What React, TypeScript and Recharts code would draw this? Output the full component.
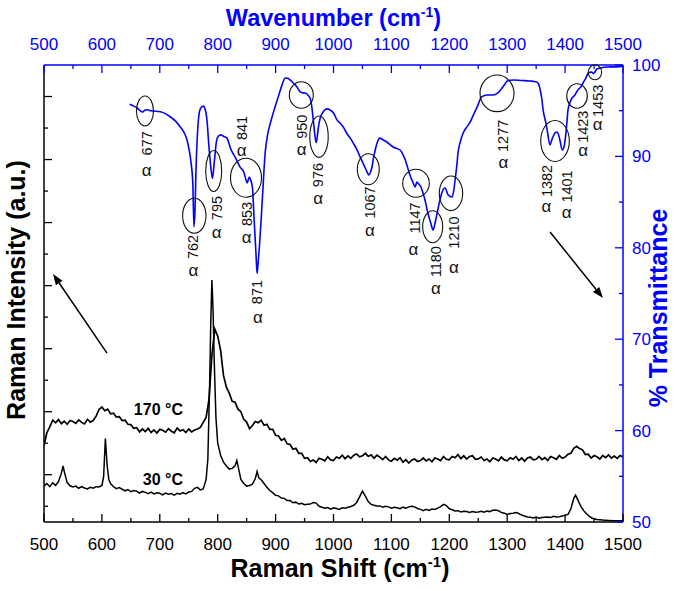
import React from 'react';
import { LineChart, Line, XAxis, YAxis, ReferenceDot, ReferenceLine } from 'recharts';

const BLUE = '#0000ff';
const FONT = "'Liberation Sans', Arial, Helvetica, sans-serif";

// ---- axis ticks ----
const shiftTicks = [500, 550, 600, 650, 700, 750, 800, 850, 900, 950, 1000, 1050, 1100, 1150, 1200, 1250, 1300, 1350, 1400, 1450, 1500];
const transTicks = [50, 55, 60, 65, 70, 75, 80, 85, 90, 95, 100];
const intensityTicks = [1, 2, 3, 4, 5, 6, 7, 8, 9, 10, 11, 12, 13, 14];

// ---- Raman 170 °C (shift, intensity a.u.) ----
const raman170: [number, number][] = [
  [500, 2.92], [505, 3.34], [510, 3.52], [515, 3.73], [520, 3.65], [525, 3.75], [530, 3.62], [535, 3.70], [540, 3.60], [545, 3.72],
  [550, 3.69], [555, 3.63], [560, 3.74], [565, 3.66], [570, 3.61], [575, 3.76], [580, 3.67], [585, 3.72], [590, 3.86], [595, 4.07],
  [600, 4.15], [605, 4.03], [610, 4.08], [615, 3.93], [620, 3.95], [625, 3.83], [630, 3.84], [635, 3.72], [640, 3.73], [645, 3.60],
  [650, 3.59], [655, 3.47], [660, 3.49], [665, 3.36], [670, 3.45], [675, 3.37], [680, 3.47], [685, 3.34], [690, 3.42], [695, 3.32],
  [700, 3.44], [705, 3.41], [710, 3.35], [715, 3.46], [720, 3.38], [725, 3.33], [730, 3.48], [735, 3.39], [740, 3.43], [745, 3.34],
  [750, 3.45], [755, 3.36], [760, 3.42], [765, 3.45], [770, 3.50], [775, 3.66], [780, 3.82], [785, 4.40], [790, 5.80], [795, 6.62],
  [800, 6.40], [805, 5.95], [810, 5.15], [815, 4.78], [820, 4.59], [825, 4.33], [830, 4.30], [835, 4.08], [840, 4.00], [845, 3.76],
  [850, 3.67], [855, 3.46], [860, 3.56], [865, 3.69], [870, 3.65], [875, 3.73], [880, 3.57], [885, 3.60], [890, 3.44], [895, 3.44],
  [900, 3.25], [905, 3.23], [910, 3.09], [915, 3.15], [920, 2.98], [925, 2.96], [930, 2.81], [935, 2.84], [940, 2.68], [945, 2.68],
  [950, 2.52], [955, 2.54], [960, 2.42], [965, 2.47], [970, 2.39], [975, 2.52], [980, 2.49], [985, 2.44], [990, 2.57], [995, 2.47],
  [1000, 2.45], [1005, 2.56], [1010, 2.52], [1015, 2.62], [1020, 2.51], [1025, 2.60], [1030, 2.52], [1035, 2.62], [1040, 2.66], [1045, 2.57],
  [1050, 2.60], [1055, 2.68], [1060, 2.58], [1065, 2.63], [1070, 2.52], [1075, 2.62], [1080, 2.56], [1085, 2.48], [1090, 2.58], [1095, 2.47],
  [1100, 2.43], [1105, 2.52], [1110, 2.46], [1115, 2.54], [1120, 2.40], [1125, 2.48], [1130, 2.37], [1135, 2.46], [1140, 2.50], [1145, 2.42],
  [1150, 2.45], [1155, 2.53], [1160, 2.44], [1165, 2.50], [1170, 2.41], [1175, 2.53], [1180, 2.50], [1185, 2.45], [1190, 2.58], [1195, 2.49],
  [1200, 2.47], [1205, 2.58], [1210, 2.54], [1215, 2.64], [1220, 2.51], [1225, 2.60], [1230, 2.50], [1235, 2.58], [1240, 2.60], [1245, 2.49],
  [1250, 2.50], [1255, 2.56], [1260, 2.45], [1265, 2.50], [1270, 2.41], [1275, 2.53], [1280, 2.50], [1285, 2.44], [1290, 2.56], [1295, 2.47],
  [1300, 2.44], [1305, 2.54], [1310, 2.49], [1315, 2.58], [1320, 2.45], [1325, 2.53], [1330, 2.43], [1335, 2.53], [1340, 2.56], [1345, 2.47],
  [1350, 2.49], [1355, 2.58], [1360, 2.48], [1365, 2.54], [1370, 2.45], [1375, 2.58], [1380, 2.54], [1385, 2.49], [1390, 2.61], [1395, 2.52],
  [1400, 2.56], [1405, 2.65], [1410, 2.68], [1415, 2.84], [1420, 2.90], [1425, 2.83], [1430, 2.79], [1435, 2.64], [1440, 2.65], [1445, 2.53],
  [1450, 2.61], [1455, 2.57], [1460, 2.50], [1465, 2.61], [1470, 2.54], [1475, 2.63], [1480, 2.53], [1485, 2.59], [1490, 2.52], [1495, 2.61],
  [1500, 2.56],
];

// ---- Raman 30 °C ----
const raman30: [number, number][] = [
  [500, 1.64], [505, 1.72], [510, 1.62], [515, 1.74], [520, 1.66], [525, 1.78], [530, 2.05], [533, 2.28], [535, 2.10], [540, 1.75],
  [545, 1.65], [550, 1.61], [555, 1.64], [560, 1.57], [565, 1.62], [570, 1.58], [575, 1.55], [580, 1.60], [585, 1.57], [590, 1.62],
  [595, 1.61], [600, 1.66], [603, 1.95], [606, 3.15], [609, 2.30], [612, 1.85], [615, 1.72], [620, 1.62], [625, 1.56], [630, 1.59],
  [635, 1.54], [640, 1.49], [645, 1.53], [650, 1.46], [655, 1.50], [660, 1.48], [665, 1.42], [670, 1.47], [675, 1.44], [680, 1.40],
  [685, 1.45], [690, 1.39], [695, 1.43], [700, 1.41], [705, 1.36], [710, 1.42], [715, 1.38], [720, 1.40], [725, 1.35], [730, 1.41],
  [735, 1.38], [740, 1.43], [745, 1.39], [750, 1.45], [755, 1.47], [760, 1.57], [765, 1.60], [770, 1.52], [775, 1.55], [780, 1.85],
  [783, 2.50], [786, 4.80], [788, 6.80], [790, 8.18], [792, 7.20], [794, 5.60], [797, 3.80], [800, 3.00], [805, 2.62], [810, 2.40],
  [815, 2.28], [820, 2.18], [825, 2.20], [830, 2.28], [833, 2.45], [836, 2.20], [840, 1.85], [845, 1.72], [850, 1.64], [855, 1.66],
  [860, 1.70], [865, 1.88], [868, 2.10], [871, 1.90], [875, 1.84], [880, 1.72], [885, 1.60], [890, 1.50], [895, 1.43], [900, 1.35],
  [905, 1.33], [910, 1.26], [915, 1.25], [920, 1.18], [925, 1.18], [930, 1.11], [935, 1.13], [940, 1.07], [945, 1.09], [950, 1.05],
  [955, 1.06], [960, 1.07], [965, 1.12], [970, 1.10], [975, 1.00], [980, 0.97], [985, 0.94], [990, 0.96], [995, 0.91], [1000, 0.95],
  [1005, 0.93], [1010, 0.90], [1015, 0.95], [1020, 0.94], [1025, 0.97], [1030, 0.99], [1035, 1.03], [1040, 1.12], [1045, 1.30], [1050, 1.48],
  [1055, 1.32], [1060, 1.15], [1065, 1.06], [1070, 1.03], [1075, 1.01], [1080, 1.01], [1085, 0.97], [1090, 1.00], [1095, 0.98], [1100, 0.94],
  [1105, 0.97], [1110, 0.95], [1115, 0.92], [1120, 0.97], [1125, 0.94], [1130, 0.98], [1135, 1.00], [1140, 0.98], [1145, 0.93], [1150, 0.90],
  [1155, 0.86], [1160, 0.90], [1165, 0.87], [1170, 0.91], [1175, 0.90], [1180, 0.94], [1185, 0.99], [1190, 1.06], [1195, 1.02], [1200, 0.92],
  [1205, 0.89], [1210, 0.85], [1215, 0.86], [1220, 0.82], [1225, 0.84], [1230, 0.83], [1235, 0.80], [1240, 0.83], [1245, 0.81], [1250, 0.82],
  [1255, 0.84], [1260, 0.81], [1265, 0.85], [1270, 0.83], [1275, 0.87], [1280, 0.88], [1285, 0.86], [1290, 0.80], [1295, 0.78], [1300, 0.74],
  [1305, 0.77], [1310, 0.78], [1315, 0.80], [1320, 0.77], [1325, 0.72], [1330, 0.69], [1335, 0.66], [1340, 0.65], [1345, 0.63], [1350, 0.66],
  [1355, 0.62], [1360, 0.64], [1365, 0.65], [1370, 0.66], [1375, 0.64], [1380, 0.68], [1385, 0.66], [1390, 0.67], [1395, 0.69], [1400, 0.71],
  [1405, 0.74], [1410, 0.92], [1415, 1.25], [1418, 1.35], [1422, 1.20], [1427, 1.00], [1432, 0.86], [1437, 0.76], [1442, 0.68], [1447, 0.62],
  [1455, 0.58], [1465, 0.56], [1475, 0.55], [1485, 0.54], [1500, 0.54],
];

// ---- FTIR (wavenumber, % transmittance) ----
const ftir: [number, number][] = [
  [648, 95.7], [655, 95.5], [662, 95.26], [666, 95.0], [670, 94.85], [674, 95.05], [678, 95.1], [684, 95.0], [701, 94.89], [718, 94.34],
  [728, 93.8], [735, 93.25], [742, 92.6], [747, 91.8], [751, 90.6], [754, 89.3], [757, 87.1], [759, 82.3], [761, 84.5], [762.5, 88.5],
  [764.5, 91.8], [767, 94.2], [770, 95.2], [775, 95.5], [779, 95.0], [782, 93.6], [784, 91.8], [788, 88.9], [791, 87.6], [794, 89.3],
  [798, 91.7], [801, 92.2], [805, 92.35], [810, 92.2], [816, 92.0], [822, 90.9], [831, 89.8], [839, 88.8], [845, 88.3], [849, 87.4],
  [851, 87.1], [854.5, 87.75], [857, 87.4], [860, 86.6], [863, 83.0], [866, 79.5], [868, 77.2], [870, 78.5], [872, 80.1], [877, 85.2],
  [882, 90.4], [886, 92.3], [891, 93.65], [899, 95.4], [905, 96.6], [911, 97.8], [916.6, 98.58], [921, 98.55], [925, 98.36], [931, 98.0],
  [937, 97.6], [942.5, 97.05], [947, 96.95], [951, 96.94], [956, 96.7], [960, 96.3], [963, 95.2], [966, 93.4], [970, 91.5], [972, 92.2],
  [974, 93.2], [977, 94.2], [981, 94.75], [985, 95.1], [989, 95.2], [994, 95.08], [1000, 94.75], [1006, 94.0], [1012, 93.6], [1017, 93.2],
  [1023, 92.5], [1029, 92.0], [1034, 91.47], [1040, 90.8], [1046, 89.93], [1050, 89.4], [1054, 88.84], [1058, 88.3], [1061, 87.96], [1064, 88.3],
  [1066.5, 88.84], [1069, 89.8], [1072, 90.7], [1076, 91.6], [1080, 92.0], [1086, 91.8], [1092, 91.58], [1103, 91.03], [1115, 90.7], [1120, 90.2],
  [1124, 89.6], [1128, 88.8], [1132, 87.96], [1137, 87.2], [1141, 86.65], [1144, 87.2], [1147, 87.0], [1151, 86.65], [1155, 85.9], [1158, 85.23],
  [1163, 83.81], [1168, 82.7], [1172, 81.95], [1175, 82.6], [1179, 83.81], [1183, 85.0], [1187, 86.0], [1192.5, 86.54], [1198, 85.78], [1205, 85.56],
  [1208, 86.4], [1210, 87.42], [1213, 89.0], [1215, 90.37], [1219, 91.6], [1224, 92.56], [1230, 93.2], [1236, 93.76], [1242, 94.6], [1248, 95.4],
  [1256, 96.5], [1265, 96.72], [1275, 96.72], [1284, 96.94], [1291, 97.48], [1296, 97.9], [1300, 98.25], [1310, 98.36], [1325, 98.3], [1339, 98.25],
  [1351, 98.14], [1355, 97.8], [1357, 97.26], [1360, 96.2], [1362, 95.08], [1366, 93.9], [1369, 92.89], [1374, 91.25], [1377, 91.8], [1379, 92.12],
  [1383, 92.6], [1386, 92.67], [1389, 92.3], [1391, 91.79], [1395, 90.7], [1398, 91.0], [1400, 91.79], [1403, 93.6], [1405, 95.08], [1409, 96.0],
  [1412, 96.39], [1417, 96.72], [1422, 97.26], [1427, 97.6], [1431, 98.03], [1436, 98.6], [1440, 99.12], [1446, 99.23], [1449, 99.05], [1452, 99.3],
  [1455, 99.56], [1463, 99.7], [1472, 99.78], [1489, 99.8], [1500, 99.85],
];

// ---- FTIR band markers (ellipse centres, data coords) ----
const bandCircles: { id: string; w: number; t: number }[] = [
  { id: '677', w: 674.4, t: 94.97 }, { id: '762', w: 759.6, t: 83.51 }, { id: '795', w: 793.1, t: 88.4 },
  { id: '853', w: 848.9, t: 87.67 }, { id: '950', w: 944.4, t: 96.72 }, { id: '976', w: 975.0, t: 92.16 },
  { id: '1067', w: 1060.1, t: 88.59 }, { id: '1147', w: 1142.5, t: 87.06 }, { id: '1180', w: 1171.3, t: 82.31 },
  { id: '1210', w: 1202.9, t: 85.96 }, { id: '1277', w: 1282.4, t: 96.9 }, { id: '1382', w: 1382.6, t: 91.68 },
  { id: '1423', w: 1420.6, t: 96.61 }, { id: '1453', w: 1451.6, t: 99.2 },
];
// ---- band labels (label centre, data coords) ----
const bandLabels: { text: string; w: number; t: number }[] = [
  { text: '677', w: 677.4, t: 91.43 }, { text: '762', w: 757.9, t: 80.09 }, { text: '795', w: 798.3, t: 84.35 },
  { text: '841', w: 841.5, t: 93.11 }, { text: '853', w: 850.1, t: 83.7 }, { text: '871', w: 867.4, t: 75.16 },
  { text: '950', w: 945.1, t: 93.25 }, { text: '976', w: 973.7, t: 87.96 }, { text: '1067', w: 1063.0, t: 84.96 },
  { text: '1147', w: 1140.8, t: 83.26 }, { text: '1180', w: 1177.0, t: 78.48 }, { text: '1210', w: 1208.1, t: 81.67 },
  { text: '1277', w: 1293.3, t: 92.25 }, { text: '1382', w: 1367.9, t: 87.31 }, { text: '1401', w: 1402.8, t: 86.71 },
  { text: '1423', w: 1431.4, t: 93.25 }, { text: '1453', w: 1456.3, t: 96.08 },
];

// styles (pixel sizes) for ellipses and alpha offsets
const ellipseSize: Record<string, [number, number]> = {
  '677': [8.5, 15], '762': [11.7, 17.5], '795': [8, 20.5], '853': [15.5, 19.5], '950': [12, 13.3], '976': [9.2, 20.7],
  '1067': [11, 15.5], '1147': [13.3, 14], '1180': [10, 16], '1210': [11.7, 17.3], '1277': [17, 18.3], '1382': [14.3, 20.5],
  '1423': [10.3, 12.2], '1453': [6.7, 7.5],
};
const alphaOffset: Record<string, [number, number]> = {
  '677': [0, 28.4], '762': [0, 24.5], '795': [0, 25.5], '841': [0, 23.5], '853': [0, 25], '871': [1.3, 26.5],
  '950': [0, 23.5], '976': [0, 24], '1067': [0, 29.2], '1147': [-1.7, 32], '1180': [0, 28.3], '1210': [0, 35.8],
  '1277': [0, 27.5], '1382': [0, 26.5], '1401': [0, 26.8], '1423': [0, 25], '1453': [0, 24.2],
};

// arrows (data coords)
const ramanArrow = [{ x: 608.8, y: 5.86 }, { x: 515.5, y: 8.37 }];
const ftirArrow = [{ x: 1374, y: 81.73 }, { x: 1465.5, y: 74.5 }];

// temperature labels
const tempLabels = [
  { text: '170 °C', w: 740, v: 3.9 },
  { text: '30 °C', w: 740, v: 1.67 },
];

const d170 = raman170.map(([w, v]) => ({ w, v }));
const d30 = raman30.map(([w, v]) => ({ w, v }));
const dFtir = ftir.map(([w, t]) => ({ w, t }));

const TICK_FS = 17;

const BottomTick = (p: any) => {
  const { x, y, payload } = p;
  const major = payload.value % 100 === 0;
  return (
    <g>
      <line x1={x} x2={x} y1={y} y2={y - (major ? 8 : 4)} stroke="#000" strokeWidth={1.3} />
      {major && (
        <text x={x} y={y + 28} textAnchor="middle" fontSize={TICK_FS} fontFamily={FONT} fill="#000">{payload.value}</text>
      )}
    </g>
  );
};
const TopTick = (p: any) => {
  const { x, y, payload } = p;
  const major = payload.value % 100 === 0;
  return (
    <g>
      <line x1={x} x2={x} y1={y} y2={y + (major ? 8 : 4)} stroke={BLUE} strokeWidth={1.3} />
      {major && (
        <text x={x} y={y - 15} textAnchor="middle" fontSize={TICK_FS} fontFamily={FONT} fill={BLUE}>{payload.value}</text>
      )}
    </g>
  );
};
const LeftTick = (p: any) => {
  const { x, y, payload } = p;
  const major = payload.value % 2 === 0;
  return <line x1={x} x2={x + (major ? 8 : 4)} y1={y} y2={y} stroke="#000" strokeWidth={1.3} />;
};
const RightTick = (p: any) => {
  const { x, y, payload } = p;
  const major = payload.value % 10 === 0;
  return (
    <g>
      <line x1={x} x2={x - (major ? 8 : 4)} y1={y} y2={y} stroke={BLUE} strokeWidth={1.3} />
      {major && (
        <text x={x + 9} y={y + 6} textAnchor="start" fontSize={TICK_FS} fontFamily={FONT} fill={BLUE}>{payload.value}</text>
      )}
    </g>
  );
};

const arrowShape = (p: any) => {
  const { x1, y1, x2, y2 } = p;
  const ang = Math.atan2(y2 - y1, x2 - x1);
  const L = 11, H = 4;
  const bx = x2 - L * Math.cos(ang), by = y2 - L * Math.sin(ang);
  const px = -Math.sin(ang) * H, py = Math.cos(ang) * H;
  return (
    <g>
      <line x1={x1} y1={y1} x2={bx} y2={by} stroke="#000" strokeWidth={1.5} />
      <polygon points={`${x2},${y2} ${bx + px},${by + py} ${bx - px},${by - py}`} fill="#000" />
    </g>
  );
};

export default function App() {
  return (
    <div style={{ position: 'absolute', left: 0, top: 0, width: 675, height: 591, background: '#fff', fontFamily: FONT }}>
      <LineChart width={675} height={591} margin={{ top: 0, right: 0, bottom: 0, left: 0 }}>
        <XAxis xAxisId="bottom" dataKey="w" type="number" orientation="bottom" domain={[500, 1500]} ticks={shiftTicks}
          interval={0} height={69} tickSize={0} tickMargin={0} tickLine={false} tick={BottomTick}
          axisLine={{ stroke: '#000', strokeWidth: 1.5 }} allowDataOverflow />
        <XAxis xAxisId="top" dataKey="w" type="number" orientation="top" domain={[500, 1500]} ticks={shiftTicks}
          interval={0} height={65} tickSize={0} tickMargin={0} tickLine={false} tick={TopTick}
          axisLine={{ stroke: BLUE, strokeWidth: 1.5 }} allowDataOverflow />
        <YAxis yAxisId="left" type="number" orientation="left" domain={[0.5, 15]} ticks={intensityTicks}
          interval={0} width={44} tickSize={0} tickMargin={0} tickLine={false} tick={LeftTick}
          axisLine={{ stroke: '#000', strokeWidth: 1.5 }} allowDataOverflow />
        <YAxis yAxisId="right" type="number" orientation="right" domain={[50, 100]} ticks={transTicks}
          interval={0} width={52} tickSize={0} tickMargin={0} tickLine={false} tick={RightTick}
          axisLine={{ stroke: BLUE, strokeWidth: 1.5 }} allowDataOverflow />

        <Line xAxisId="bottom" yAxisId="left" data={d170} dataKey="v" stroke="#000" strokeWidth={1.7}
          dot={false} isAnimationActive={false} />
        <Line xAxisId="bottom" yAxisId="left" data={d30} dataKey="v" stroke="#000" strokeWidth={1.5}
          dot={false} isAnimationActive={false} />
        <Line xAxisId="top" yAxisId="right" data={dFtir} dataKey="t" stroke={BLUE} strokeWidth={1.6} type="monotone"
          dot={false} isAnimationActive={false} />

        {bandCircles.map((b) => (
          <ReferenceDot key={'e' + b.id} xAxisId="top" yAxisId="right" x={b.w} y={b.t}
            shape={(p: any) => (
              <ellipse cx={p.cx} cy={p.cy} rx={ellipseSize[b.id][0]} ry={ellipseSize[b.id][1]} fill="none" stroke="#111" strokeWidth={1.1} />
            )} />
        ))}
        {bandLabels.map((b) => (
          <ReferenceDot key={'l' + b.text} xAxisId="top" yAxisId="right" x={b.w} y={b.t}
            shape={(p: any) => (
              <g fontFamily={FONT} fill="#111">
                <text transform={`translate(${p.cx},${p.cy}) rotate(-90)`} textAnchor="middle" dy={5} fontSize={14.5}>{b.text}</text>
                <text x={p.cx + alphaOffset[b.text][0]} y={p.cy + alphaOffset[b.text][1]} dy={4.5} textAnchor="middle" fontSize={17}>α</text>
              </g>
            )} />
        ))}
        {tempLabels.map((l) => (
          <ReferenceDot key={l.text} xAxisId="bottom" yAxisId="left" x={l.w} y={l.v}
            shape={(p: any) => (
              <text x={p.cx} y={p.cy} textAnchor="end" fontSize={16} fontWeight="bold" fontFamily={FONT} fill="#000">{l.text}</text>
            )} />
        ))}
        <ReferenceLine xAxisId="bottom" yAxisId="left" segment={ramanArrow} shape={arrowShape} />
        <ReferenceLine xAxisId="top" yAxisId="right" segment={ftirArrow} shape={arrowShape} />
      </LineChart>
      <svg width={675} height={591} style={{ position: 'absolute', left: 0, top: 0, pointerEvents: 'none' }}>
        <g fontFamily={FONT} fontWeight="bold">
          <text x={333.5} y={26} textAnchor="middle" fontSize={23.5} fill={BLUE}>
            Wavenumber (cm<tspan dy={-9} fontSize={14}>-1</tspan><tspan dy={9}>)</tspan>
          </text>
          <text x={340} y={577} textAnchor="middle" fontSize={25} fill="#000">
            Raman Shift (cm<tspan dy={-10} fontSize={15}>-1</tspan><tspan dy={10}>)</tspan>
          </text>
          <text transform="translate(25,290) rotate(-90)" textAnchor="middle" fontSize={25} fill="#000">Raman Intensity (a.u.)</text>
          <text transform="translate(667,308) rotate(-90)" textAnchor="middle" fontSize={25} fill={BLUE}>% Transmittance</text>
        </g>
      </svg>
    </div>
  );
}
